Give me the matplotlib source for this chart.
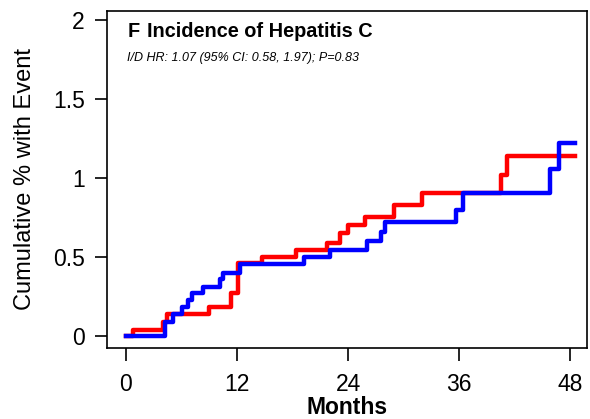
import matplotlib
matplotlib.use("Agg")
from matplotlib import pyplot as plt

plt.rcParams['font.family'] = ['Liberation Sans', 'DejaVu Sans']

# Tempos (meses) e incidência acumulada (%) de cada braço
red_months = [0, 0.75, 4.0, 4.4, 9.0, 11.3, 12.1, 14.7, 18.4, 21.7, 23.1, 24.0, 25.8, 29.0, 32.0, 40.5, 41.2, 48.5]
red_cum = [0, 0.04, 0.09, 0.14, 0.185, 0.27, 0.46, 0.50, 0.545, 0.59, 0.65, 0.70, 0.755, 0.83, 0.907, 1.02, 1.14, 1.14]

blue_months = [0, 4.2, 5.1, 6.0, 6.7, 7.1, 8.3, 10.2, 10.5, 12.3, 19.2, 22.0, 26.0, 27.6, 28.0, 35.6, 36.4, 45.8, 46.8, 48.5]
blue_cum = [0, 0.09, 0.14, 0.185, 0.23, 0.27, 0.31, 0.36, 0.40, 0.455, 0.50, 0.545, 0.60, 0.66, 0.72, 0.80, 0.907, 1.06, 1.22, 1.22]

x_ticks = [0, 12, 24, 36, 48]
y_ticks = [0, 0.5, 1, 1.5, 2]
y_labels = ["0", "0.5", "1", "1.5", "2"]

fig = plt.figure(figsize=(5.9, 4.19), dpi=100)
ax = fig.add_axes([107 / 590, 1 - 348 / 419, 480 / 590, 337 / 419])

ax.step(red_months, red_cum, where="post", color="#ff0000", lw=3.2)
ax.step(blue_months, blue_cum, where="post", color="#0000ff", lw=3.2)

ax.set_xlim(-2.05, 49.8)
ax.set_ylim(-0.076, 2.057)
ax.set_xticks(x_ticks)
ax.set_yticks(y_ticks)
ax.set_yticklabels(y_labels)
ax.tick_params(axis="x", length=9, width=1.2, pad=9, labelsize=16.5)
ax.tick_params(axis="y", length=9, width=1.2, pad=7, labelsize=16.5)
for s in ax.spines.values():
    s.set_linewidth(1.2)

ax.set_xlabel("Months", fontsize=16.5, fontweight="bold", labelpad=0)
ax.set_ylabel("Cumulative % with Event", fontsize=17)
ax.yaxis.set_label_coords(-0.148, 0.5)

ax.text(0.042, 0.94, "F", transform=ax.transAxes, fontsize=14.3, fontweight="bold", va="center")
ax.text(0.083, 0.94, "Incidence of Hepatitis C", transform=ax.transAxes, fontsize=14.3, fontweight="bold", va="center")
ax.text(0.042, 0.861, "I/D HR: 1.07 (95% CI: 0.58, 1.97); P=0.83", transform=ax.transAxes,
        fontsize=9, style="italic", va="center")

plt.savefig("out.png", dpi=100)
